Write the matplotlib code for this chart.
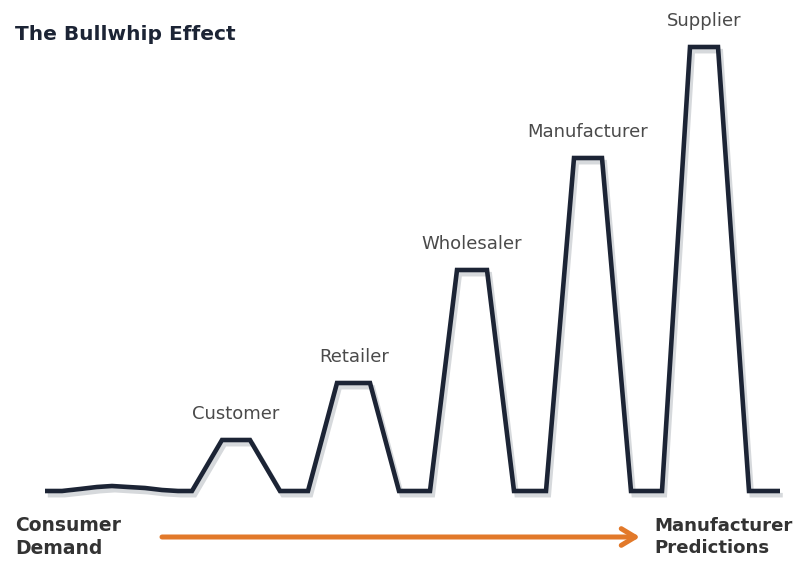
import matplotlib
matplotlib.use("Agg")
import matplotlib.pyplot as plt
import matplotlib.patheffects as pe
import numpy as np

# order swings over time (baseline = 0)
time_pts = [45, 62, 80, 97, 112, 128, 145, 162, 178, 192,
            222, 250, 280, 308, 337, 370, 399, 430, 457, 487, 514,
            546, 574, 602, 631, 662, 690, 718, 749, 780]
order_vals = [0, 0, 2, 4, 5, 4, 3, 1, 0, 0,
              51, 51, 0, 0, 108, 108, 0, 0, 221, 221, 0,
              0, 333, 333, 0, 0, 444, 444, 0, 0]

stages = ["Customer", "Retailer", "Wholesaler", "Manufacturer", "Supplier"]
stage_x = [236, 354, 472, 588, 704]
stage_peak = [51, 108, 221, 333, 444]

title = "The Bullwhip Effect"
left_label = "Consumer\nDemand"
right_label = "Manufacturer\nPredictions"
arrow_start, arrow_end, arrow_level = 162, 640, -46

navy = "#1c2435"
orange = "#e2792a"

fig = plt.figure(figsize=(7.99, 5.63), dpi=100)
ax = fig.add_axes([0, 0, 1, 1])
ax.set_xlim(0, 799)
ax.set_ylim(-72, 491)
ax.axis("off")

ax.plot(time_pts, order_vals, color=navy, lw=3.3, solid_joinstyle="miter",
        solid_capstyle="butt",
        path_effects=[pe.SimpleLineShadow(offset=(2, -3), shadow_color="#9aa0a8", alpha=0.4),
                      pe.Normal()])

for name, x, peak in zip(stages, stage_x, stage_peak):
    ax.annotate(name, (x, peak), xytext=(0, 12), textcoords="offset points",
                ha="center", va="bottom", fontsize=13, color="#4a4a4a")

ax.annotate("", xy=(arrow_end, arrow_level), xytext=(arrow_start, arrow_level),
            arrowprops=dict(arrowstyle="->,head_length=1.0,head_width=0.6",
                            color=orange, lw=3.6, shrinkA=0, shrinkB=0))

ax.text(15, 456, title, fontsize=14.5, fontweight="bold", color=navy,
        ha="left", va="center")
ax.text(15, -46, left_label, fontsize=13.5, fontweight="bold", color="#333333",
        ha="left", va="center", linespacing=1.25)
ax.text(654, -46, right_label, fontsize=13.1, fontweight="bold", color="#333333",
        ha="left", va="center", linespacing=1.28)

fig.savefig("out.png", dpi=100)
plt.close(fig)
